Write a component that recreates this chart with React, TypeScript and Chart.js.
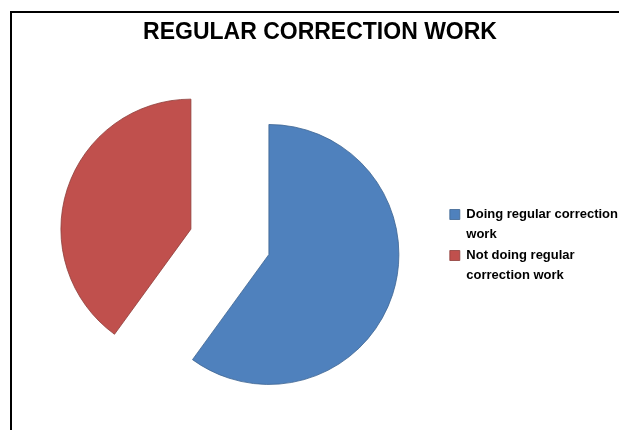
import React, { useEffect, useRef } from "react";
import { Chart, registerables } from "chart.js";

Chart.register(...registerables);

const chartTitle = "REGULAR CORRECTION WORK";
const categories: string[][] = [
  ["Doing regular correction", "work"],
  ["Not doing regular", "correction work"],
];
const shares: number[] = [60, 40];
const sliceColors = ["#4F81BD", "#C0504D"];
const sliceBorders = ["#3d6592", "#8e3d3a"];
const EXPLODE = 41;

const explodePlugin = {
  id: "explodeSlices",
  beforeDatasetsDraw(chart: any) {
    const meta = chart.getDatasetMeta(0);
    meta.data.forEach((el: any) => {
      if (el.__exploded) return;
      const orig = el.draw.bind(el);
      el.draw = (ctx: CanvasRenderingContext2D) => {
        const half = (el.startAngle + el.endAngle) / 2;
        ctx.save();
        ctx.translate(Math.cos(half) * EXPLODE, Math.sin(half) * EXPLODE);
        orig(ctx);
        ctx.restore();
      };
      el.__exploded = true;
    });
  },
};

export default function App() {
  const ref = useRef<HTMLCanvasElement | null>(null);
  useEffect(() => {
    if (!ref.current) return;
    const chart = new Chart(ref.current, {
      type: "pie",
      data: {
        labels: categories as any,
        datasets: [
          {
            data: shares,
            backgroundColor: sliceColors,
            borderColor: sliceBorders,
            borderWidth: 0.8,
            radius: 130,
          } as any,
        ],
      },
      plugins: [explodePlugin],
      options: {
        responsive: false,
        animation: false,
        layout: { padding: { left: 12, right: 2, top: 0, bottom: 0 } },
        plugins: {
          tooltip: { enabled: false },
          title: {
            display: true,
            text: chartTitle,
            color: "#000",
            font: { family: "'Liberation Sans', Arial, sans-serif", size: 23, weight: "bold", lineHeight: 1.2 },
            padding: { top: 19, bottom: 7 },
          },
          legend: {
            position: "right",
            align: "center",
            title: {
              display: true,
              text: "",
              font: { size: 10, lineHeight: 1.2 },
              padding: { top: 54, bottom: 0 },
            },
            labels: {
              boxWidth: 10,
              boxHeight: 10,
              padding: 2,
              color: "#000",
              font: { family: "'Liberation Sans', Arial, sans-serif", size: 13, weight: "bold", lineHeight: 1.5 },
            },
          },
        },
      },
    });
    return () => chart.destroy();
  }, []);

  return (
    <div style={{ position: "fixed", left: 0, top: 0, width: 619, height: 430, overflow: "hidden", background: "#fff" }}>
      <div
        style={{
          position: "absolute",
          left: 10,
          top: 11,
          width: 700,
          height: 500,
          borderLeft: "2px solid #000",
          borderTop: "2px solid #000",
        }}
      />
      <canvas ref={ref} width={630} height={430} style={{ position: "absolute", left: 0, top: 0 }} />
    </div>
  );
}
